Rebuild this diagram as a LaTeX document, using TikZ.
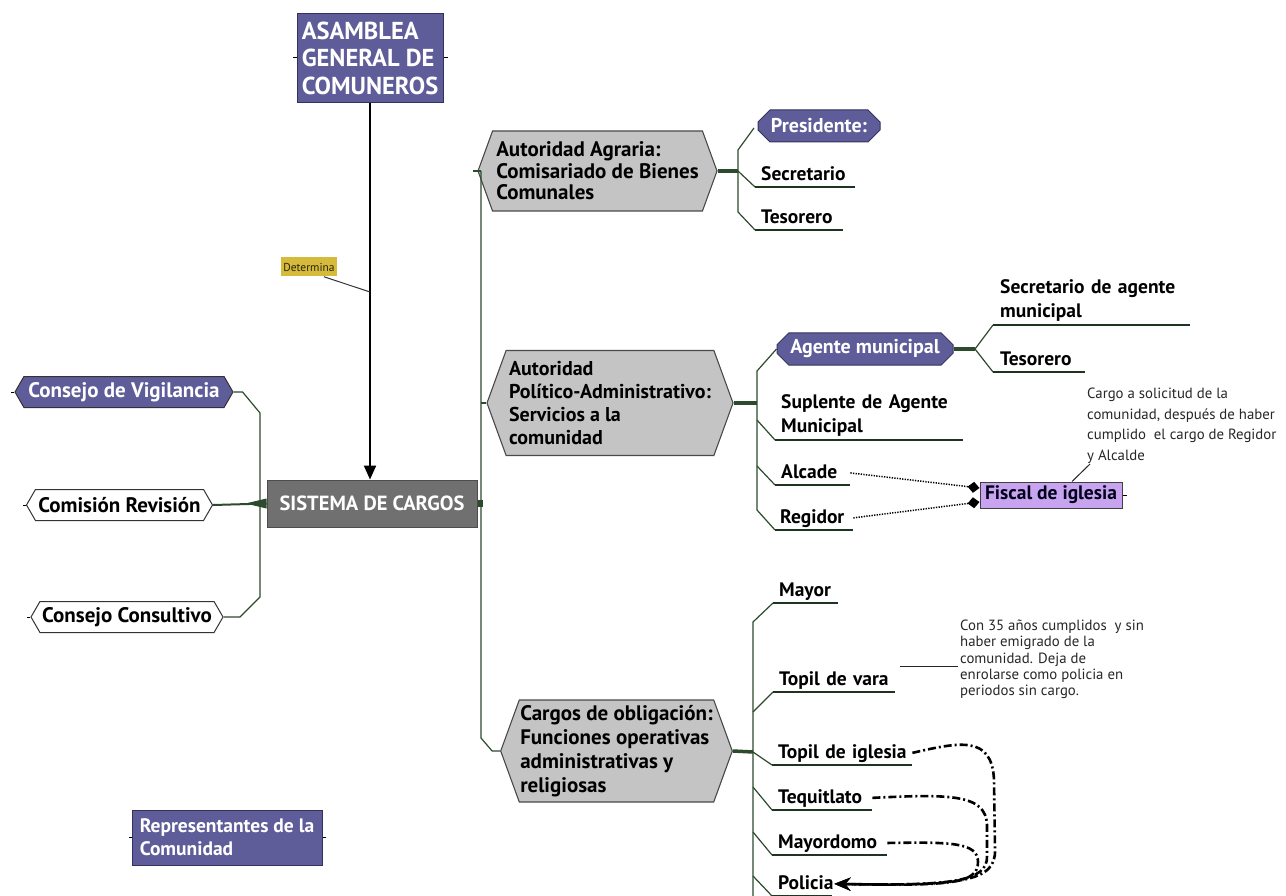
\documentclass[tikz,border=0pt]{standalone}
\usepackage{fontspec}
\setmainfont{PT Sans}
\usetikzlibrary{shapes.symbols,shapes.misc,arrows.meta,calc}

\definecolor{slate}{HTML}{5F5D99}
\definecolor{slateedge}{HTML}{34325A}
\definecolor{hexgray}{HTML}{C4C4C4}
\definecolor{hexedge}{HTML}{4A4A4A}
\definecolor{corebox}{HTML}{707070}
\definecolor{lilac}{HTML}{C7A3F0}
\definecolor{ochre}{HTML}{D6BA3C}
\definecolor{twig}{HTML}{2C4A2C}
\definecolor{rulegreen}{HTML}{1F3321}

\begin{document}
\begin{tikzpicture}[x=1pt,y=-1pt,
  lbl/.style={font=\fontsize{19.5}{24}\selectfont\bfseries},
  bighex/.style={signal, signal to=west and east, signal pointer angle=140,
    fill=hexgray, draw=hexedge, line width=1.1pt, align=left, inner sep=1pt},
  tabhex/.style={signal, signal to=west and east, signal pointer angle=120,
    draw=black!80, line width=1pt, inner sep=1pt, minimum height=31pt,
    font=\fontsize{21}{24}\selectfont\bfseries},
  chamf/.style={chamfered rectangle, chamfered rectangle xsep=6pt,
    chamfered rectangle ysep=6pt, fill=slate, draw=slateedge, line width=1pt,
    text=white, inner sep=1pt, minimum height=32pt,
    font=\fontsize{20}{24}\selectfont\bfseries},
  % multi-line label standing on its underline
  itemtall/.style={anchor=south west, inner xsep=6pt, inner ysep=3.5pt,
    align=left, lbl, text width=#1},
  % single-line label standing on its underline
  item/.style={itemtall=#1, text depth=3pt},
  underl/.style={draw=rulegreen, line width=2pt},
  trunk/.style={draw=twig, line width=1.2pt},
  stub/.style={draw=twig, line width=3.5pt},
  note/.style={align=left, inner sep=0pt, text=black!85,
    font=\fontsize{14.8}{#1}\selectfont},
  chain/.style={line width=2.6pt, dash pattern=on 8pt off 3pt on 2pt off 3pt,
    -{Stealth[length=16pt,width=13pt]}},
  dots/.style={line width=1.5pt, dash pattern=on 1.3pt off 1.3pt,
    -{Diamond[length=12pt,width=11pt]}}
]
\useasboundingbox (0,0) rectangle (1286,896);

% ---------- top assembly and core node ----------
\node[fill=slate, draw=slateedge, line width=1pt, text=white, align=left,
      minimum width=146pt, minimum height=89pt, inner sep=1pt,
      font=\fontsize{24.5}{27.5}\selectfont\bfseries] (asamblea) at (370,58)
      {ASAMBLEA\\GENERAL DE\\COMUNEROS};
\draw[line width=1pt] (asamblea.west) -- ++(-4,0);
\draw[line width=1pt] (asamblea.east) -- ++(4,0);

\node[fill=corebox, draw=black!70, line width=1pt, text=white,
      minimum width=210pt, minimum height=47pt, inner sep=1pt,
      font=\fontsize{20.5}{24}\selectfont\bfseries] (sistema) at (372,503.5)
      {SISTEMA DE CARGOS};

\draw[line width=2.2pt, -{Triangle[length=14pt,width=12pt]}]
  (asamblea.south) -- (asamblea.south |- sistema.north);

\node[fill=ochre, inner sep=2pt, minimum height=19pt, text=black!80!ochre,
      font=\fontsize{11.5}{13}\selectfont] (determina) at (309,267) {Determina};
\coordinate (dhit) at (370,292);
\draw[line width=1pt, black!80] ([xshift=-13pt]determina.south east) -- (dhit);

% ---------- left bracket ----------
\node[tabhex, fill=slate, text=white, minimum width=218pt] (vigil) at (124,392)
  {Consejo de Vigilancia};
\node[tabhex, fill=white, minimum width=186pt] (comision) at (119.5,505)
  {Comisión Revisión};
\node[tabhex, fill=white, minimum width=192pt] (consult) at (127,617)
  {Consejo Consultivo};
\foreach \n in {vigil,comision,consult}
  \draw[line width=1pt] (\n.west) -- ++(-3,0);

\draw[trunk] (vigil.east) -- ++(9,0) -- (260,413) -- (260,597)
  -- (240,617) -- (consult.east);
\draw[trunk, line width=2pt] (comision.east) -- (sistema.west);
\fill[twig] ([xshift=-21pt]sistema.west) -- ([yshift=5pt]sistema.west)
  -- ([yshift=-5pt]sistema.west) -- cycle;

\node[fill=slate, draw=slateedge, line width=1pt, text=white, align=left,
      minimum width=190pt, minimum height=55pt, inner sep=1pt,
      font=\fontsize{19.5}{23}\selectfont\bfseries] (repres) at (227,837.5)
      {Representantes de la\\Comunidad};
\draw[line width=1pt] (repres.west) -- ++(-3,0);
\draw[line width=1pt] (repres.east) -- ++(3,0);

% ---------- right trunk ----------
\node[bighex, minimum width=239pt, minimum height=80pt,
      font=\fontsize{21}{21.5}\selectfont\bfseries] (agr) at (597.5,171)
  {Autoridad Agraria:\\Comisariado de Bienes\\Comunales};
\node[bighex, minimum width=246pt, minimum height=105pt,
      font=\fontsize{20}{23}\selectfont\bfseries] (pol) at (610,403)
  {Autoridad\\Político-Administrativo:\\Servicios a la\\comunidad};
\node[bighex, minimum width=227pt, minimum height=102pt,
      font=\fontsize{21}{24}\selectfont\bfseries] (obl) at (616.5,751)
  {Cargos de obligación:\\Funciones operativas\\administrativas y\\religiosas};

\coordinate (tk1) at (481,171);
\coordinate (tk2) at (481,738);
\fill[twig] ([yshift=4pt]sistema.east) rectangle ++(5,7);
\draw[trunk] (tk1) -- (tk2) -- ($(obl.west)+(-8,0)$) -- (obl.west);
\draw[line width=2pt, twig] ([xshift=-4pt]agr.west) -- (tk1);
\draw[line width=2pt, twig] (tk1 |- pol.west) -- (pol.west);

% ---------- agrarian branch ----------
\coordinate (ba) at (738,171);
\draw[stub] (agr.east) -- (ba);
\node[chamf, minimum width=122pt] (pres) at (819,126) {Presidente:};
\node[item=88pt] (secr1) at (755,187) {\mbox{Secretario}};
\node[item=76pt] (tes1) at (755,230) {\mbox{Tesorero}};
\draw[trunk] (754,128) -- (738,150) -- (738,212) -- (tes1.south west);
\draw[trunk] (ba) -- (secr1.south west);
\draw[underl] (secr1.south west) -- (secr1.south east);
\draw[underl] (tes1.south west) -- (tes1.south east);

% ---------- political branch ----------
\coordinate (bp) at (757,403);
\draw[stub] (pol.east) -- (bp);
\node[chamf, minimum width=176pt] (agente) at (865,349) {Agente municipal};
\node[itemtall=176pt] (suplente) at (775,440) {\mbox{Suplente de Agente}\\Municipal};
\node[item=63pt] (alcade) at (775,485) {\mbox{Alcade}};
\node[item=68pt, inner xsep=5pt] (regidor) at (775,530) {\mbox{Regidor}};
\draw[trunk] (agente.west) -- (757,371) -- (757,510) -- (regidor.south west);
\draw[trunk] (757,420) -- (suplente.south west);
\draw[trunk] (757,466) -- (alcade.south west);
\foreach \n in {suplente,alcade,regidor}
  \draw[underl] (\n.south west) -- (\n.south east);

\coordinate (bg) at (975,349);
\draw[stub] (agente.east) -- (bg);
\node[itemtall=183pt, inner xsep=7pt] (secag) at (993,325)
  {\mbox{Secretario de agente}\\municipal};
\node[item=78pt, inner xsep=7pt] (tes2) at (993,372) {\mbox{Tesorero}};
\draw[trunk] (secag.south west) -- (bg) -- (tes2.south west);
\draw[underl] (secag.south west) -- (secag.south east);
\draw[underl] (tes2.south west) -- (tes2.south east);

\node[fill=lilac, draw=black!75, line width=1pt, minimum width=142pt,
      minimum height=26pt, inner sep=1pt, text=black!90!blue,
      font=\fontsize{19.5}{22}\selectfont\bfseries] (fiscal) at (1051,495)
      {Fiscal de iglesia};
\draw[line width=1pt] (fiscal.east) -- ++(4,0);
\draw[dots] (alcade.east) -- ([yshift=7pt]fiscal.west);
\draw[dots] (regidor.east) -- ([yshift=-7pt]fiscal.west);

\node[note=20.6pt, anchor=north west] (note1) at (1087,388)
  {Cargo a solicitud de la\\comunidad, después de haber\\cumplido\ \ el cargo de Regidor\\y Alcalde};
\coordinate (n1hit) at (1090,464);
\draw[line width=1pt, black!85] ([xshift=21pt]fiscal.north) -- (n1hit);

% ---------- duty branch ----------
\coordinate (bo) at (753,752);
\draw[stub] (obl.east) -- (bo);
\node[item=53pt] (mayor) at (773,603) {\mbox{Mayor}};
\node[item=110pt] (topilv) at (773,692) {\mbox{Topil de vara}};
\node[item=128pt] (topili) at (772,765) {\mbox{Topil de iglesia}};
\node[item=88pt] (tequi) at (772,810) {\mbox{Tequitlato}};
\node[item=103pt] (mayord) at (772,855) {\mbox{Mayordomo}};
\node[item=48pt] (policia) at (772,896) {\mbox{Policia}};
\draw[trunk] (mayor.south west) -- (753,622) -- (753,900);
\draw[trunk] (753,712) -- (topilv.south west);
\draw[trunk] (bo) -- (topili.south west);
\draw[trunk] (753,787) -- (tequi.south west);
\draw[trunk] (753,832) -- (mayord.south west);
\draw[trunk] (753,876) -- (policia.south west);
\foreach \n in {mayor,topilv,topili,tequi,mayord,policia}
  \draw[underl] (\n.south west) -- (\n.south east);

\node[note=16.2pt, anchor=north west] (note2) at (960,620)
  {Con 35 años cumplidos\ \ y sin\\haber emigrado de la\\comunidad. Deja de\\enrolarse como policia en\\periodos sin cargo.};
\coordinate (n2hit) at (958,666);
\draw[line width=1pt, black!85] ([xshift=5pt]topilv.east |- n2hit) -- (n2hit);

\draw[chain] (topili.east) .. controls (960,742) and (992,735) .. (994,780)
  -- (995,850) .. controls (996,882) and (960,886) .. ([xshift=2pt]policia.east);
\draw[chain] (tequi.east) .. controls (950,794) and (986,794) .. (987,825)
  -- (987,856) .. controls (988,882) and (950,886) .. ([xshift=2pt]policia.east);
\draw[chain] (mayord.east) .. controls (950,842) and (978,842) .. (978,862)
  .. controls (978,884) and (950,886) .. ([xshift=2pt]policia.east);
\end{tikzpicture}
\end{document}
